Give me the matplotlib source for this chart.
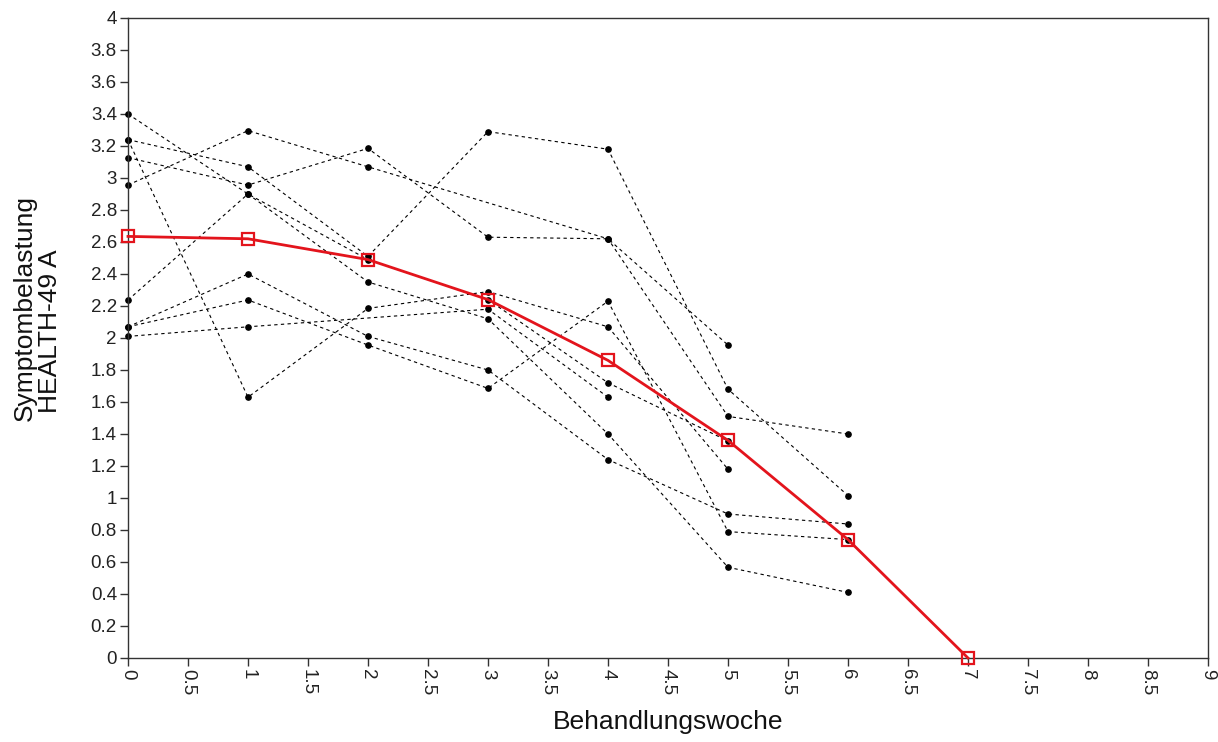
import numpy as np
import matplotlib
matplotlib.use("Agg")
import matplotlib.pyplot as plt
from matplotlib.ticker import MultipleLocator, FuncFormatter

plt.rcParams['font.family'] = ['Liberation Sans', 'DejaVu Sans']

nan = np.nan
weeks = [0, 1, 2, 3, 4, 5, 6]

# individual patients (NaN = no measurement that week)
p1 = [3.40, 2.90, 2.49, 2.24, 1.72, 1.356, nan]
p2 = [3.24, 1.63, 2.185, 2.29, 2.07, 1.18, nan]
p3 = [3.24, 3.07, 2.51, 3.29, 3.18, 1.68, 1.015]
p4 = [3.127, 2.956, 3.185, 2.63, 2.62, 1.956, nan]
p5 = [2.956, 3.296, 3.07, nan, 2.62, 1.51, 1.40]
p6 = [2.2375, 2.90, 2.35, 2.12, 1.40, 0.567, 0.41]
p7 = [2.07, 2.40, 2.01, 1.80, 1.24, 0.90, 0.8375]
p8 = [2.07, 2.2375, 1.956, 1.685, 2.23, 0.79, 0.74]
p9 = [2.01, 2.07, nan, 2.18, 1.63, nan, nan]
patients = [p1, p2, p3, p4, p5, p6, p7, p8, p9]

mean_weeks = [0, 1, 2, 3, 4, 5, 6, 7]
mean_vals = [2.635, 2.62, 2.49, 2.24, 1.86, 1.36, 0.74, 0.0]

x_label = 'Behandlungswoche'
y_label_lines = ['Symptombelastung', 'HEALTH-49 A']

W, H = 1218, 742
fig = plt.figure(figsize=(W / 100, H / 100), dpi=100)
ax = fig.add_axes([128 / W, 1 - 658 / H, 1080 / W, 640 / H])

for p in patients:
    w = np.array(weeks, dtype=float)
    v = np.array(p, dtype=float)
    m = ~np.isnan(v)
    ax.plot(w[m], v[m], linestyle=(0, (3, 3)), color='black', linewidth=0.8,
            marker='o', markersize=3.8, markerfacecolor='black',
            markeredgecolor='black', zorder=2, clip_on=False)

ax.plot(mean_weeks, mean_vals, color='#e3141c', linewidth=2.0, marker='s',
        markersize=9, markerfacecolor='none', markeredgecolor='#e3141c',
        markeredgewidth=1.6, zorder=3, clip_on=False)

ax.set_xlim(0, 9)
ax.set_ylim(0, 4)
ax.xaxis.set_major_locator(MultipleLocator(0.5))
ax.yaxis.set_major_locator(MultipleLocator(0.2))

def fmt(v, pos):
    s = f"{v:.1f}"
    if s.endswith(".0"):
        s = s[:-2]
    return s

ax.xaxis.set_major_formatter(FuncFormatter(fmt))
ax.yaxis.set_major_formatter(FuncFormatter(fmt))
ax.tick_params(axis='both', direction='out', length=5.5, width=1,
               labelsize=13.5, pad=2.5, colors='#333333', labelcolor='#222222')
for lab in ax.get_xticklabels():
    lab.set_rotation(270)
    lab.set_va('top')
    lab.set_ha('center')

for s in ax.spines.values():
    s.set_color('#333333')
    s.set_linewidth(1.0)

ax.set_xlabel(x_label, fontsize=19, color='#111111')
ax.xaxis.set_label_coords(0.5, -0.082)

fig.text(25 / W, 1 - 308 / H, y_label_lines[0], rotation=90, fontsize=19,
         ha='center', va='center', color='#111111')
fig.text(50 / W, 1 - 331 / H, y_label_lines[1], rotation=90, fontsize=19,
         ha='center', va='center', color='#111111')

fig.savefig('out.png', dpi=100)
